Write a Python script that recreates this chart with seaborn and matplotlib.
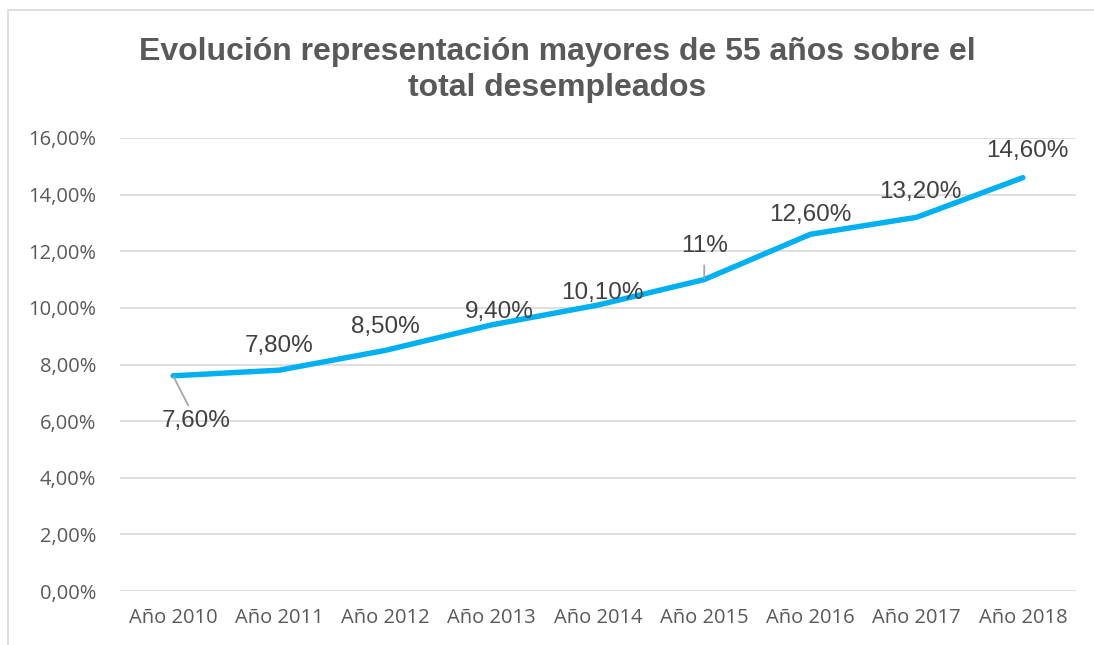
import pandas as pd
import matplotlib.pyplot as plt
from matplotlib.patches import Rectangle
import seaborn as sns

# Datos
years = ['Año 2010', 'Año 2011', 'Año 2012', 'Año 2013', 'Año 2014',
         'Año 2015', 'Año 2016', 'Año 2017', 'Año 2018']
share = [7.6, 7.8, 8.5, 9.4, 10.1, 11.0, 12.6, 13.2, 14.6]
point_labels = ['7,60%', '7,80%', '8,50%', '9,40%', '10,10%',
                '11%', '12,60%', '13,20%', '14,60%']
y_ticks = [0, 2, 4, 6, 8, 10, 12, 14, 16]
y_tick_labels = ['0,00%', '2,00%', '4,00%', '6,00%', '8,00%',
                 '10,00%', '12,00%', '14,00%', '16,00%']

# desplazamiento de etiquetas (px) y recorte de la línea guía (None = sin guía)
label_offsets = [(23, -45), (0, 24), (0, 23), (8, 13), (4, 12),
                 (0, 34), (0, 19), (4, 25), (4, 27)]
leader_shrink = [1, None, None, None, None, 4, None, None, None]

df = pd.DataFrame({'year': years, 'share': share})

sns.set_style('white')
plt.rcParams['font.family'] = ['Liberation Sans', 'DejaVu Sans']

W, H = 1094, 645
fig = plt.figure(figsize=(W / 100, H / 100), dpi=100)
ax = fig.add_axes([120 / W, 54 / H, (1076 - 120) / W, (591 - 138) / H])

sns.lineplot(data=df, x='year', y='share', ax=ax, color='#00B0F0',
             linewidth=3.9, sort=False, solid_capstyle='round')

ax.set_xlim(-0.5, len(years) - 0.5)
ax.set_ylim(0, 16)
ax.set_yticks(y_ticks)
ax.set_yticklabels(y_tick_labels)
ax.grid(axis='y', color='#D9D9D9', linewidth=1.2)
ax.set_axisbelow(True)
for s in ax.spines.values():
    s.set_visible(False)
ax.set_xlabel('')
ax.set_ylabel('')
ax.tick_params(axis='both', length=0, labelcolor='#595959')
ax.tick_params(axis='y', pad=17)
ax.tick_params(axis='x', pad=12)
for t in ax.get_xticklabels() + ax.get_yticklabels():
    t.set_fontfamily(['Open Sans', 'DejaVu Sans'])
    t.set_fontsize(14.5)

for i, (lab, off) in enumerate(zip(point_labels, label_offsets)):
    dx, dy = off[0] * 0.72, off[1] * 0.72
    ap = None
    if leader_shrink[i] is not None:
        ap = dict(arrowstyle='-', color='#A6A6A6', lw=1.3,
                  shrinkA=leader_shrink[i], shrinkB=1)
    ax.annotate(lab, xy=(i, share[i]), xytext=(dx, dy),
                textcoords='offset points', ha='center', va='center',
                fontsize=17.5, color='#404040', arrowprops=ap)

fig.text(557 / W, 1 - 70 / H,
         'Evolución representación mayores de 55 años sobre el\ntotal desempleados',
         ha='center', va='center', fontsize=23, fontweight='bold',
         color='#595959', linespacing=1.3)

fig.patches.append(Rectangle((8 / W, -0.05), 1.2, 1 - 10 / H + 0.05,
                             transform=fig.transFigure, fill=False,
                             edgecolor='#D9D9D9', linewidth=1.2))

fig.savefig('out.png', dpi=100)
